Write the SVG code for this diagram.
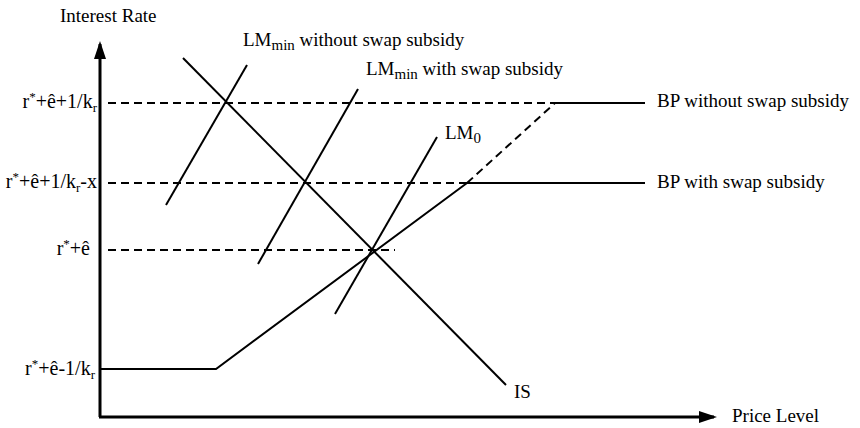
<svg xmlns="http://www.w3.org/2000/svg" width="860" height="428" viewBox="0 0 860 428">
<style>
text{font-family:"Liberation Serif","Times New Roman",serif;font-size:19px;fill:#000}
.ax{stroke:#000;stroke-width:3;fill:none}
.ln{stroke:#000;stroke-width:2;fill:none}
.ds{stroke:#000;stroke-width:2;fill:none;stroke-dasharray:8 5}
.sub{font-size:15px}
.sm{font-size:13px}
.yl{font-size:20px}
</style>
<defs>
<marker id="ah" markerWidth="6" markerHeight="4" refX="5" refY="2" orient="auto" markerUnits="strokeWidth">
<path d="M0,0 L6,2 L0,4 Z" fill="#000"/>
</marker>
</defs>
<g id="axes">
<line class="ax" x1="100" y1="417" x2="100" y2="44" marker-end="url(#ah)"/>
<line class="ax" x1="99" y1="417" x2="714" y2="417" marker-end="url(#ah)"/>
<text x="60" y="22">Interest Rate</text>
<text x="732" y="422">Price Level</text>
</g>
<g id="connectors">
<line class="ds" x1="108" y1="103" x2="555" y2="103"/>
<line class="ln" x1="555" y1="103" x2="645" y2="103"/>
<line class="ds" x1="108" y1="183" x2="467" y2="183"/>
<line class="ln" x1="467" y1="183" x2="645" y2="183"/>
<line class="ds" x1="108" y1="250" x2="395" y2="250"/>
<polyline class="ln" points="100,369 216,369 467,183"/>
<line class="ds" x1="467" y1="183" x2="555" y2="103"/>
</g>
<g id="IS">
<line class="ln" x1="183" y1="58" x2="506" y2="385"/>
<text x="514" y="398">IS</text>
</g>
<g id="LM0">
<line class="ln" x1="335" y1="314" x2="437" y2="137"/>
<text x="445" y="139">LM<tspan class="sub" dy="4">0</tspan></text>
</g>
<g id="LMmin-with">
<line class="ln" x1="258" y1="264" x2="358" y2="89"/>
<text x="366" y="75">LM<tspan class="sub" dy="4">min</tspan><tspan dy="-4"> with swap subsidy</tspan></text>
</g>
<g id="LMmin-without">
<line class="ln" x1="166" y1="205" x2="247" y2="65"/>
<text x="243" y="46">LM<tspan class="sub" dy="4">min</tspan><tspan dy="-4"> without swap subsidy</tspan></text>
</g>
<g id="BP-without">
<text x="657" y="107">BP without swap subsidy</text>
</g>
<g id="BP-with">
<text x="657" y="188">BP with swap subsidy</text>
</g>
<g id="ylabels">
<text class="yl" x="97" y="108" text-anchor="end">r<tspan class="sm" dy="-7">*</tspan><tspan dy="7">+ê+1/k</tspan><tspan class="sm" dy="4">r</tspan></text>
<text class="yl" x="97" y="188" text-anchor="end">r<tspan class="sm" dy="-7">*</tspan><tspan dy="7">+ê+1/k</tspan><tspan class="sm" dy="4">r</tspan><tspan dy="-4">-x</tspan></text>
<text class="yl" x="90" y="255" text-anchor="end">r<tspan class="sm" dy="-7">*</tspan><tspan dy="7">+ê</tspan></text>
<text class="yl" x="95" y="375" text-anchor="end">r<tspan class="sm" dy="-7">*</tspan><tspan dy="7">+ê-1/k</tspan><tspan class="sm" dy="4">r</tspan></text>
</g>
</svg>
